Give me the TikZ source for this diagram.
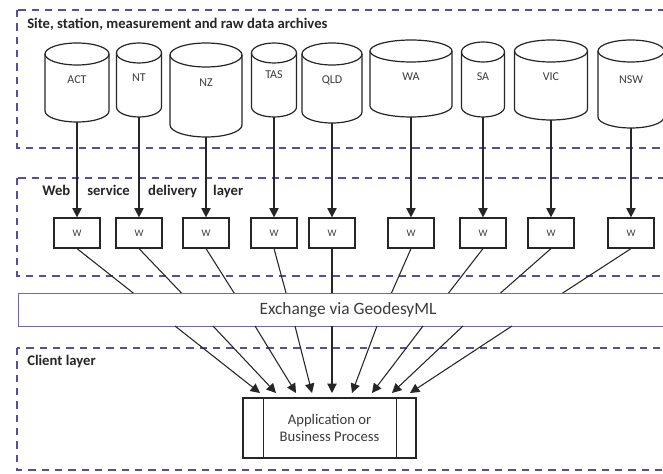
\documentclass[tikz,border=0pt]{standalone}
\usepackage{fontspec}
\setmainfont{Carlito}
\usetikzlibrary{arrows.meta,calc}
\definecolor{dashblue}{RGB}{88,76,165}
\definecolor{barline}{RGB}{110,100,185}
\definecolor{txtgray}{RGB}{60,60,60}
\newcommand{\mkcyl}[8]{%
  \draw[cylline] ({#2-#3},{#4+#6}) -- ({#2-#3},{#5-#6}) arc[start angle=180,end angle=0,x radius=#3,y radius=#6] -- ({#2+#3},{#4+#6});
  \draw[cylline] (#2,{#4+#6}) ellipse[x radius=#3,y radius=#6];
  \node[inner sep=0pt,minimum width={1.5pt*#3},minimum height={0.75pt*(#5-#4)}] (#1) at (#2,{(#4+#5)/2}) {};
  \node[cyllbl] (#1lbl) at (#2,#7) {#8};
}
\begin{document}
\begin{tikzpicture}[x=0.75pt,y=-0.75pt,
  layerbox/.style={draw=dashblue,line width=1.2pt,dash pattern=on 5.5pt off 4.5pt},
  layerlbl/.style={font=\fontsize{11}{13}\selectfont\bfseries,anchor=west,inner sep=0pt,text=black!85},
  cylline/.style={line width=0.9pt,draw=black!85},
  cyllbl/.style={font=\fontsize{9}{11}\selectfont,text=txtgray,inner sep=0pt},
  wbox/.style={draw=black!85,line width=0.9pt,fill=white,minimum width=34.5pt,minimum height=22.5pt,inner sep=0pt,font=\fontsize{7.5}{9}\selectfont,text=txtgray},
  conn/.style={line width=0.8pt,draw=black!85},
  arr/.style={conn,-{Triangle[width=7pt,length=7pt]}}
]
\clip (0,0) rectangle (663,474);
\fill[white] (0,0) rectangle (663,474);
% layer boxes
\draw[layerbox] (17,10) rectangle (690,148);
\draw[layerbox] (17,178) rectangle (690,276);
\draw[layerbox] (17,348) rectangle (690,470);
\node[layerlbl] (archlbl) at (27,24) {Site, station, measurement and raw data archives};
\node[layerlbl] (weblbl) at (42,192) {\makebox[33.75pt][l]{Web}\makebox[45.75pt][l]{service}\makebox[48.75pt][l]{delivery}layer};
\node[layerlbl] (clientlbl) at (27,362) {Client layer};
% archives
\mkcyl{act}{77}{32}{43}{122}{11}{80}{ACT}
\mkcyl{nt}{139}{22.5}{43}{117}{10}{78}{NT}
\mkcyl{nz}{206}{36}{43}{137}{12}{83}{NZ}
\mkcyl{tas}{274}{22.5}{43}{117}{10}{75}{TAS}
\mkcyl{qld}{332}{30}{43}{123}{11}{80}{QLD}
\mkcyl{wa}{411}{41}{40}{117}{11}{77}{WA}
\mkcyl{sa}{483}{21.5}{42}{117}{10}{77}{SA}
\mkcyl{vic}{551}{36.5}{40}{120}{11}{77}{VIC}
\mkcyl{nsw}{631}{33}{40}{128}{11}{80}{NSW}
% web services
\node[wbox] (wact) at (77,233) {W};
\node[wbox] (wnt) at (139,233) {W};
\node[wbox] (wnz) at (206,233) {W};
\node[wbox] (wtas) at (274,233) {W};
\node[wbox] (wqld) at (332,233) {W};
\node[wbox] (wwa) at (411,233) {W};
\node[wbox] (wsa) at (483,233) {W};
\node[wbox] (wvic) at (551,233) {W};
\node[wbox] (wnsw) at (631,233) {W};
\foreach \s in {act,nt,nz,tas,qld,wa,sa,vic,nsw}
  \draw[arr] (\s.south) -- (w\s.north);
% crossing points and tips
\coordinate (bact) at (175,326);
\coordinate (bnt) at (213,326);
\coordinate (bnz) at (255,326);
\coordinate (btas) at (295,326);
\coordinate (bqld) at (332,326);
\coordinate (bwa) at (377,326);
\coordinate (bsa) at (423,326);
\coordinate (bvic) at (463,326);
\coordinate (bnsw) at (512,326);
\coordinate (tact) at (260,393);
\coordinate (tnt) at (276,393);
\coordinate (tnz) at (296,393);
\coordinate (ttas) at (312,393);
\coordinate (tqld) at (332,393);
\coordinate (twa) at (352,393);
\coordinate (tsa) at (372,393);
\coordinate (tvic) at (392,393);
\coordinate (tnsw) at (410,393);
\foreach \s in {act,nt,nz,tas,qld,wa,sa,vic,nsw}
  \draw[conn] (w\s.south) -- (b\s);
% exchange bar
\node[draw=barline,line width=0.7pt,fill=white,minimum width=495pt,minimum height=24.75pt,inner sep=0pt,font=\fontsize{13}{15}\selectfont,text=txtgray] (bar) at (348,309.5) {Exchange via GeodesyML};
\foreach \s in {act,nt,nz,tas,qld,wa,sa,vic,nsw}
  \draw[arr] (b\s) -- (t\s);
% application
\node[draw=black!85,line width=0.9pt,minimum width=129.75pt,minimum height=45pt,align=center,font=\fontsize{11}{12.75}\selectfont,text=txtgray] (app) at (329.5,428) {Application or\\Business Process};
\draw[conn] ($(app.north west)+(21,0)$) -- ($(app.south west)+(21,0)$);
\draw[conn] ($(app.north east)+(-20,0)$) -- ($(app.south east)+(-20,0)$);
\end{tikzpicture}
\end{document}
